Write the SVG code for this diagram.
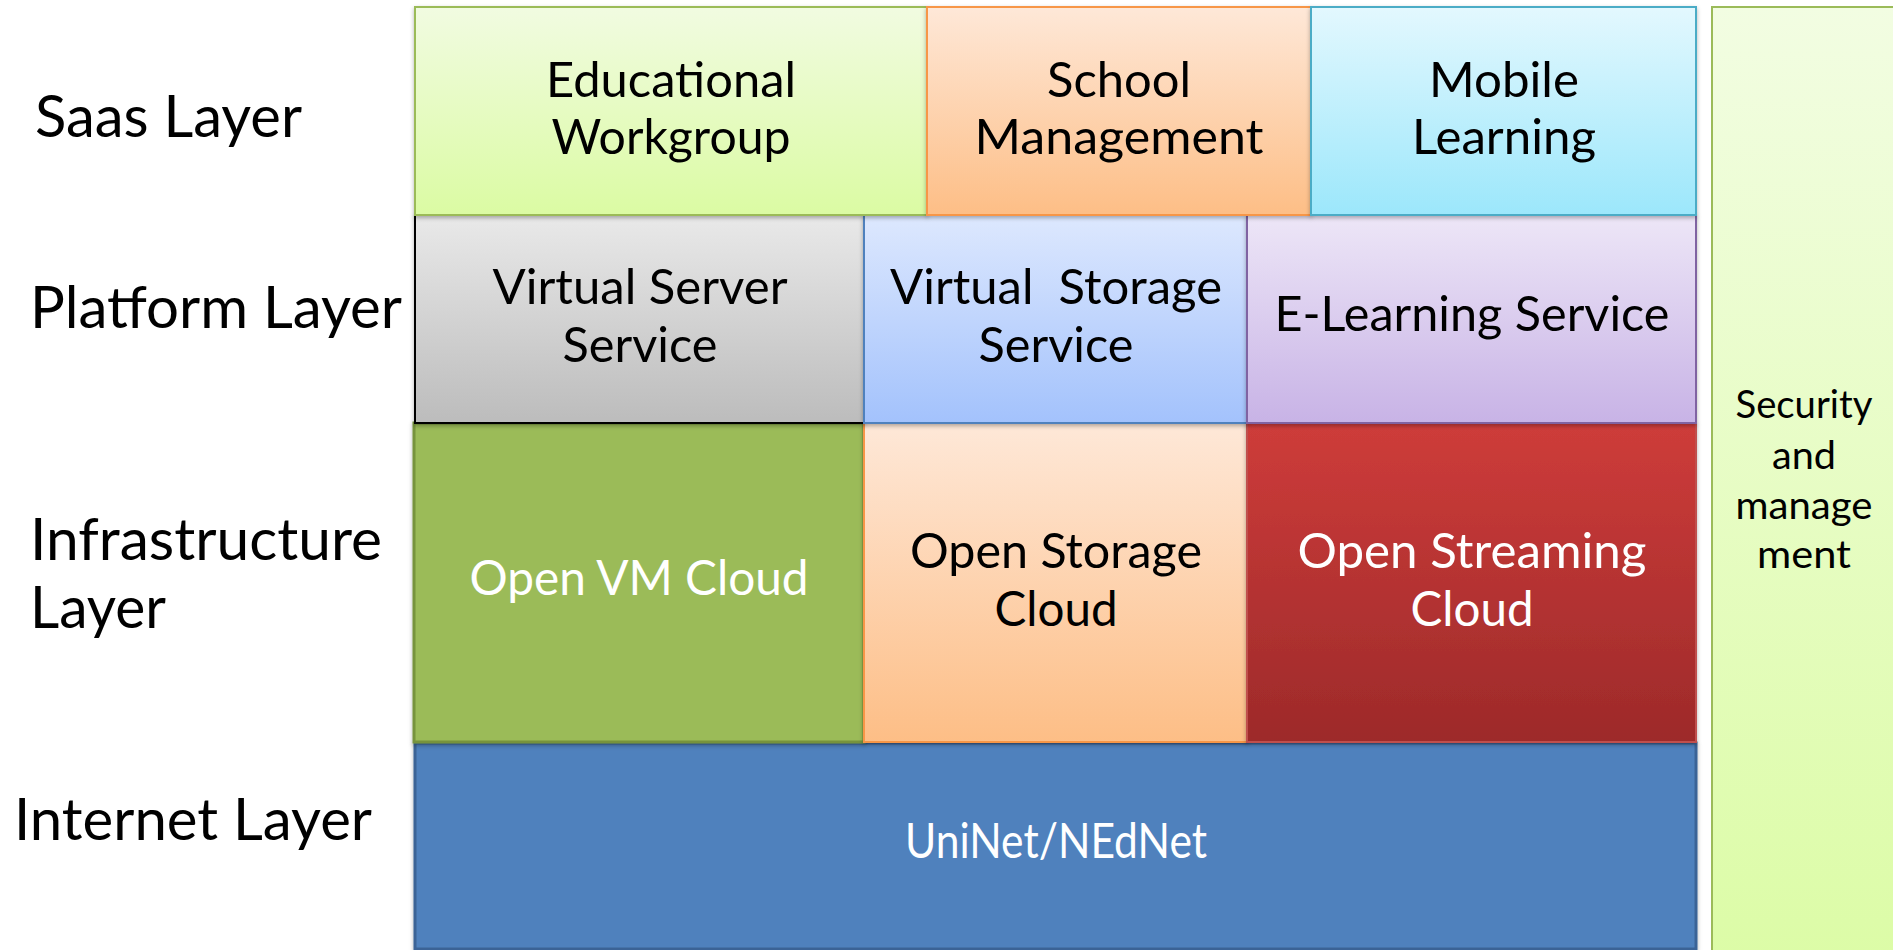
<svg xmlns="http://www.w3.org/2000/svg" width="1893" height="950" viewBox="0 0 1893 950">
<style>
.lbl{font-family:Lato,"Liberation Sans",sans-serif;font-size:58px;fill:#000}
.bt{font-family:Lato,"Liberation Sans",sans-serif;font-size:48px;fill:#000;text-anchor:middle}
.wt{fill:#fff}
.st{font-family:Lato,"Liberation Sans",sans-serif;font-size:38px;fill:#000;text-anchor:middle}
</style>
<defs>
<linearGradient id="gGreen" x1="0" y1="0" x2="0" y2="1"><stop offset="0" stop-color="#f1fbe1"/><stop offset="1" stop-color="#dbfba3"/></linearGradient>
<linearGradient id="gOrange" x1="0" y1="0" x2="0" y2="1"><stop offset="0" stop-color="#fee8d8"/><stop offset="1" stop-color="#fdbe86"/></linearGradient>
<linearGradient id="gCyan" x1="0" y1="0" x2="0" y2="1"><stop offset="0" stop-color="#e3f8fe"/><stop offset="1" stop-color="#9ce7fb"/></linearGradient>
<linearGradient id="gGray" x1="0" y1="0" x2="0" y2="1"><stop offset="0" stop-color="#e9e9e9"/><stop offset="1" stop-color="#bcbcbc"/></linearGradient>
<linearGradient id="gBlue" x1="0" y1="0" x2="0" y2="1"><stop offset="0" stop-color="#dde8fe"/><stop offset="1" stop-color="#a3c2fc"/></linearGradient>
<linearGradient id="gPurple" x1="0" y1="0" x2="0" y2="1"><stop offset="0" stop-color="#ede6f7"/><stop offset="1" stop-color="#c8b3e6"/></linearGradient>
<linearGradient id="gRed" x1="0" y1="0" x2="0" y2="1"><stop offset="0" stop-color="#ce3c3a"/><stop offset="1" stop-color="#9d2a2a"/></linearGradient>
<linearGradient id="gSec" x1="0" y1="0" x2="0" y2="1"><stop offset="0" stop-color="#f2fde2"/><stop offset="1" stop-color="#dcfca6"/></linearGradient>
<filter id="sh" x="-5%" y="-5%" width="110%" height="115%"><feDropShadow dx="0" dy="2" stdDeviation="2" flood-color="#000" flood-opacity="0.3"/></filter>
</defs>
<rect width="1893" height="950" fill="#fff"/>

<g id="labels">
<text class="lbl" x="35" y="137" textLength="267" lengthAdjust="spacingAndGlyphs">Saas Layer</text>
<text class="lbl" x="30" y="328" textLength="372" lengthAdjust="spacingAndGlyphs">Platform Layer</text>
<text class="lbl" x="30" y="560" textLength="352" lengthAdjust="spacingAndGlyphs">Infrastructure</text>
<text class="lbl" x="30" y="628" textLength="136" lengthAdjust="spacingAndGlyphs">Layer</text>
<text class="lbl" x="14" y="840" textLength="358" lengthAdjust="spacingAndGlyphs">Internet Layer</text>
</g>

<g id="security">
<rect x="1712" y="7" width="200" height="960" fill="url(#gSec)" stroke="#9bbb59" stroke-width="2"/>
<text class="st" x="1804" y="418" textLength="137" lengthAdjust="spacingAndGlyphs">Security</text>
<text class="st" x="1804" y="469" textLength="64" lengthAdjust="spacingAndGlyphs">and</text>
<text class="st" x="1804" y="519" textLength="137" lengthAdjust="spacingAndGlyphs">manage</text>
<text class="st" x="1804" y="568" textLength="94" lengthAdjust="spacingAndGlyphs">ment</text>
</g>

<g id="internet">
<rect x="415" y="743" width="1281" height="206" fill="#4f81bd" stroke="#3a6496" stroke-width="3" filter="url(#sh)"/>
<text class="bt wt" x="1056" y="858" textLength="302" lengthAdjust="spacingAndGlyphs">UniNet/NEdNet</text>
</g>

<g id="open-vm">
<rect x="414" y="423" width="450" height="319" fill="#9bbb59" stroke="#77933c" stroke-width="3" filter="url(#sh)"/>
<text class="bt wt" x="639" y="595" textLength="339" lengthAdjust="spacingAndGlyphs">Open VM Cloud</text>
</g>
<g id="open-storage">
<rect x="864" y="423" width="383" height="319" fill="url(#gOrange)" stroke="#f79646" stroke-width="2" filter="url(#sh)"/>
<text class="bt" x="1056" y="568" textLength="292" lengthAdjust="spacingAndGlyphs">Open Storage</text>
<text class="bt" x="1056" y="626" textLength="123" lengthAdjust="spacingAndGlyphs">Cloud</text>
</g>
<g id="open-streaming">
<rect x="1247" y="423" width="449" height="319" fill="url(#gRed)" stroke="#c0504d" stroke-width="2" filter="url(#sh)"/>
<text class="bt wt" x="1472" y="568" textLength="349" lengthAdjust="spacingAndGlyphs">Open Streaming</text>
<text class="bt wt" x="1472" y="626" textLength="123" lengthAdjust="spacingAndGlyphs">Cloud</text>
</g>

<g id="virtual-server">
<rect x="415" y="215" width="449" height="208" fill="url(#gGray)" stroke="#000" stroke-width="2" filter="url(#sh)"/>
<text class="bt" x="640" y="304" textLength="295" lengthAdjust="spacingAndGlyphs">Virtual Server</text>
<text class="bt" x="640" y="362" textLength="155" lengthAdjust="spacingAndGlyphs">Service</text>
</g>
<g id="virtual-storage">
<rect x="864" y="215" width="383" height="208" fill="url(#gBlue)" stroke="#4f81bd" stroke-width="2" filter="url(#sh)"/>
<text class="bt" x="1056" y="304" xml:space="preserve" textLength="332" lengthAdjust="spacingAndGlyphs">Virtual  Storage</text>
<text class="bt" x="1056" y="362" textLength="155" lengthAdjust="spacingAndGlyphs">Service</text>
</g>
<g id="e-learning">
<rect x="1247" y="215" width="449" height="208" fill="url(#gPurple)" stroke="#8064a2" stroke-width="2" filter="url(#sh)"/>
<text class="bt" x="1472" y="331" textLength="395" lengthAdjust="spacingAndGlyphs">E-Learning Service</text>
</g>

<g id="educational">
<rect x="415" y="7" width="512" height="208" fill="url(#gGreen)" stroke="#9bbb59" stroke-width="2" filter="url(#sh)"/>
<text class="bt" x="671" y="97" textLength="250" lengthAdjust="spacingAndGlyphs">Educational</text>
<text class="bt" x="671" y="154" textLength="239" lengthAdjust="spacingAndGlyphs">Workgroup</text>
</g>
<g id="school">
<rect x="927" y="7" width="384" height="208" fill="url(#gOrange)" stroke="#f79646" stroke-width="2" filter="url(#sh)"/>
<text class="bt" x="1119" y="97" textLength="144" lengthAdjust="spacingAndGlyphs">School</text>
<text class="bt" x="1119" y="154" textLength="289" lengthAdjust="spacingAndGlyphs">Management</text>
</g>
<g id="mobile">
<rect x="1311" y="7" width="385" height="208" fill="url(#gCyan)" stroke="#4bacc6" stroke-width="2" filter="url(#sh)"/>
<text class="bt" x="1504" y="97" textLength="150" lengthAdjust="spacingAndGlyphs">Mobile</text>
<text class="bt" x="1504" y="154" textLength="184" lengthAdjust="spacingAndGlyphs">Learning</text>
</g>

<g id="connectors"/>
</svg>
